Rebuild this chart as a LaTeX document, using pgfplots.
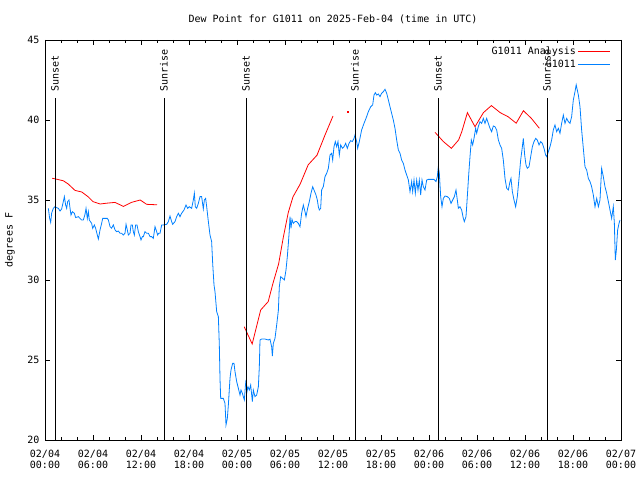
\documentclass[border=0pt]{standalone}
\usepackage{pgfplots}
\pgfplotsset{compat=1.18}
\usepackage{fontspec}
\setmainfont{DejaVu Sans Mono}
\definecolor{gblue}{RGB}{0,128,255}
\definecolor{gred}{RGB}{255,0,0}

\pgfplotstableread{
h v
0.42 34.48
0.58 33.85
0.71 33.6
0.83 34.17
1.04 34.48
1.25 34.58
1.46 34.52
1.67 34.48
1.88 34.31
2.08 34.44
2.29 34.9
2.42 35.21
2.58 34.69
2.71 34.48
2.83 34.9
3.0 35.0
3.13 34.48
3.25 34.06
3.42 34.27
3.67 34.17
3.83 33.9
4.17 33.96
4.38 33.85
4.58 33.75
4.79 33.75
5.0 34.1
5.13 34.48
5.29 33.85
5.42 34.27
5.54 33.75
5.83 33.54
5.96 33.23
6.17 33.44
6.33 33.23
6.54 32.81
6.67 32.56
6.88 33.13
7.08 33.54
7.21 33.85
7.5 33.85
7.79 33.85
7.92 33.75
8.13 33.33
8.33 33.23
8.54 33.44
8.75 33.13
8.96 33.02
9.17 33.06
9.38 32.92
9.58 32.92
9.79 32.81
10.0 32.92
10.13 33.48
10.29 33.13
10.42 32.81
10.63 32.92
10.75 33.44
10.92 33.44
11.04 33.02
11.17 32.81
11.33 33.44
11.5 33.44
11.67 33.02
11.88 32.71
12.0 32.5
12.17 32.71
12.29 32.71
12.5 33.02
12.71 32.92
12.92 32.92
13.13 32.71
13.33 32.71
13.54 32.6
13.75 33.33
13.96 33.02
14.08 32.81
14.21 32.92
14.38 32.92
14.58 33.44
14.79 33.44
15.21 33.48
15.42 33.65
15.625 34.0
15.83 33.65
15.96 33.48
16.25 33.65
16.46 33.96
16.67 34.17
16.875 33.96
17.08 34.17
17.375 34.375
17.625 34.69
17.83 34.48
18.04 34.58
18.33 34.48
18.54 35.0
18.67 35.42
18.79 34.58
18.96 34.48
19.17 34.79
19.375 35.21
19.58 35.21
19.79 34.44
19.92 35.0
20.08 35.1
20.21 34.58
20.42 33.65
20.625 32.81
20.83 32.4
20.96 31.04
21.125 29.69
21.25 29.27
21.46 28.02
21.67 27.71
21.79 25.94
21.875 23.85
21.96 22.6
22.29 22.6
22.5 22.29
22.625 20.94
22.79 21.35
22.92 22.19
23.125 23.85
23.25 24.375
23.46 24.79
23.625 24.79
23.75 24.27
23.96 23.65
24.17 23.23
24.375 22.81
24.5 23.125
24.67 22.92
24.79 22.71
24.92 22.5
25.04 23.33
25.125 23.75
25.25 23.02
25.375 23.33
25.54 23.125
25.71 23.44
25.92 22.4
26.04 23.125
26.25 22.71
26.46 22.81
26.67 23.33
26.79 24.58
26.875 26.25
27.08 26.31
27.5 26.31
27.92 26.25
28.125 26.3
28.33 25.83
28.42 25.25
28.54 26.04
28.75 26.35
28.96 27.19
29.17 28.1
29.29 29.58
29.46 30.21
29.71 30.1
29.92 30.0
30.125 30.625
30.29 31.46
30.42 32.29
30.54 33.125
30.625 33.96
30.75 33.23
30.875 33.79
31.04 33.54
31.25 33.65
31.46 33.65
31.67 33.54
31.875 33.33
32.08 34.17
32.29 34.69
32.5 34.27
32.625 33.96
32.83 34.48
33.04 34.9
33.25 35.42
33.46 35.83
33.625 35.625
33.875 35.31
34.04 35.0
34.17 34.58
34.29 34.375
34.46 34.48
34.58 35.625
34.79 35.83
35.0 36.46
35.21 36.67
35.42 36.98
35.625 37.81
35.83 37.92
35.96 37.5
36.125 38.33
36.29 38.65
36.46 38.33
36.625 38.65
36.79 37.81
36.96 38.44
37.17 38.23
37.375 38.33
37.58 38.54
37.79 38.23
38.0 38.54
38.21 38.71
38.42 38.65
38.625 38.85
38.75 39.06
38.96 38.65
39.08 38.23
39.29 38.65
39.58 39.375
39.875 39.79
40.125 40.1
40.42 40.52
40.71 40.83
40.96 40.94
41.125 41.56
41.29 41.71
41.46 41.56
41.67 41.625
41.875 41.46
42.08 41.67
42.29 41.77
42.5 41.92
42.71 41.67
42.92 41.25
43.125 40.83
43.33 40.42
43.54 40.0
43.75 39.48
43.96 38.75
44.17 38.125
44.375 37.92
44.58 37.5
44.79 37.29
45.0 36.875
45.21 36.56
45.42 36.25
45.625 35.52
45.83 36.15
45.96 35.52
46.125 36.25
46.29 35.42
46.46 36.25
46.625 35.625
46.79 36.25
46.96 35.31
47.125 36.25
47.29 35.83
47.5 35.625
47.71 36.25
47.92 36.29
48.125 36.29
48.625 36.29
48.875 36.15
49.04 36.46
49.17 37.08
49.29 36.67
49.46 35.21
49.625 34.58
49.79 35.1
50.0 35.25
50.29 35.21
50.54 35.1
50.75 34.79
50.96 35.0
51.17 35.21
51.375 35.625
51.54 35.0
51.67 34.48
51.875 34.58
52.08 34.375
52.29 33.85
52.42 33.65
52.625 33.96
52.79 35.21
52.96 36.56
53.125 37.71
53.29 38.75
53.46 38.44
53.625 38.85
53.83 39.48
53.96 39.17
54.17 39.6
54.375 39.9
54.58 39.79
54.79 40.1
55.0 39.79
55.21 40.1
55.42 39.79
55.625 39.48
55.83 39.27
56.04 39.625
56.25 39.58
56.46 39.375
56.67 38.75
56.875 38.44
57.08 38.23
57.29 37.5
57.5 36.35
57.71 35.73
57.92 35.625
58.125 36.15
58.25 36.35
58.42 35.52
58.625 35.0
58.83 34.58
59.04 35.21
59.25 36.35
59.46 37.5
59.67 38.33
59.79 38.85
59.96 37.81
60.125 37.19
60.29 36.98
60.5 37.08
60.71 37.71
60.92 38.33
61.125 38.65
61.33 38.85
61.54 38.75
61.75 38.44
61.96 38.65
62.17 38.54
62.375 38.23
62.58 37.81
62.71 37.71
62.92 38.02
63.125 38.33
63.33 38.75
63.54 39.375
63.75 39.69
63.96 39.27
64.17 39.48
64.375 39.17
64.58 39.79
64.79 40.31
65.0 39.79
65.21 40.1
65.42 39.9
65.625 39.79
65.83 40.21
66.04 41.25
66.25 41.77
66.4 42.2
66.67 41.56
66.875 40.83
67.08 39.375
67.29 38.23
67.5 37.08
67.71 36.875
67.92 36.35
68.125 36.15
68.33 35.83
68.54 35.31
68.75 34.58
68.96 35.1
69.17 34.58
69.375 35.0
69.58 36.98
69.79 36.46
70.0 35.83
70.21 35.42
70.42 34.9
70.625 34.375
70.83 33.85
71.04 34.58
71.17 33.54
71.29 31.25
71.42 31.875
71.58 33.125
71.75 33.54
71.875 33.75
}\obs

\pgfplotstableread{
h v
0.9 36.36
1.46 36.3
2.3 36.2
2.9 36.0
3.75 35.6
4.6 35.5
5.4 35.2
6.0 34.9
6.9 34.75
7.7 34.8
8.75 34.85
9.8 34.6
10.8 34.85
11.9 35.0
12.7 34.73
14.0 34.7
}\anaA

\pgfplotstableread{
h v
24.9 27.08
25.9 26.0
26.96 28.125
27.9 28.65
28.5 29.8
29.2 31.0
29.8 32.7
30.4 34.2
31.0 35.2
31.9 36.0
32.9 37.2
34.0 37.8
35.0 39.06
36.0 40.25
}\anaB

\pgfplotstableread{
h v
48.75 39.23
49.8 38.65
50.8 38.23
51.7 38.75
52.1 39.27
52.8 40.46
53.75 39.58
54.8 40.46
55.8 40.9
56.9 40.46
57.9 40.2
58.9 39.8
59.8 40.58
60.8 40.1
61.8 39.48
}\anaC

\begin{document}
\begin{tikzpicture}
\useasboundingbox (-45bp,-40bp) rectangle (595bp,440bp);
\begin{axis}[
  scale only axis, width=576bp, height=400bp,
  at={(0,0)}, anchor=south west,
  xmin=0, xmax=72, ymin=20, ymax=45,
  clip=false,
  xtick={0,6,...,72}, minor x tick num=2,
  xticklabels={{02/04\\00:00},{02/04\\06:00},{02/04\\12:00},{02/04\\18:00},{02/05\\00:00},{02/05\\06:00},{02/05\\12:00},{02/05\\18:00},{02/06\\00:00},{02/06\\06:00},{02/06\\12:00},{02/06\\18:00},{02/07\\00:00}},
  ytick={20,25,...,45},
  font=\fontsize{10bp}{12bp}\selectfont,
  xticklabel style={align=center, font=\fontsize{10bp}{11bp}\selectfont, yshift=-7bp},
  yticklabel style={xshift=-2bp},
  /pgf/number format/assume math mode=true,
  major tick length=5bp, minor tick length=3bp,
  axis line style={line width=0.8bp},
  every tick/.style={black, line width=0.8bp},
  title={Dew Point for G1011 on 2025-Feb-04 (time in UTC)},
  title style={at={(axis description cs:0.5,1)}, anchor=center, yshift=15bp},
  ylabel={degrees F},
  ylabel style={at={(axis description cs:-0.0608,0.5)}, anchor=center},
  legend style={draw=none, fill=none, at={(axis description cs:1,1)}, anchor=north east, xshift=-10bp, yshift=-5bp, row sep=0bp, inner sep=0pt},
  legend cell align=right,
  legend plot pos=right,
  legend image code/.code={\path (0bp,0bp) -- (4bp,0bp); \draw[#1] (4bp,0bp) -- (32bp,0bp);},
]
\addplot[gred, line width=0.8bp] table[x=h,y=v] {\anaA};
\addlegendentry{G1011 Analysis}
\addplot[gblue, line width=0.8bp] table[x=h,y=v] {\obs};
\addlegendentry{G1011}
\addplot[gred, line width=0.8bp, forget plot] table[x=h,y=v] {\anaB};
\addplot[gred, line width=0.8bp, forget plot] table[x=h,y=v] {\anaC};
\addplot[gred, only marks, mark=square*, mark size=0.5bp, forget plot] coordinates {(37.8,40.5)};

\draw[black, line width=0.8bp] (axis cs:1.25,20) -- (axis cs:1.25,41.375) node[rotate=90, anchor=west, inner xsep=6bp, inner ysep=0pt] {Sunset};
\draw[black, line width=0.8bp] (axis cs:14.875,20) -- (axis cs:14.875,41.375) node[rotate=90, anchor=west, inner xsep=6bp, inner ysep=0pt] {Sunrise};
\draw[black, line width=0.8bp] (axis cs:25.125,20) -- (axis cs:25.125,41.375) node[rotate=90, anchor=west, inner xsep=6bp, inner ysep=0pt] {Sunset};
\draw[black, line width=0.8bp] (axis cs:38.75,20) -- (axis cs:38.75,41.375) node[rotate=90, anchor=west, inner xsep=6bp, inner ysep=0pt] {Sunrise};
\draw[black, line width=0.8bp] (axis cs:49.125,20) -- (axis cs:49.125,41.375) node[rotate=90, anchor=west, inner xsep=6bp, inner ysep=0pt] {Sunset};
\draw[black, line width=0.8bp] (axis cs:62.75,20) -- (axis cs:62.75,41.375) node[rotate=90, anchor=west, inner xsep=6bp, inner ysep=0pt] {Sunrise};
\end{axis}
\end{tikzpicture}
\end{document}
